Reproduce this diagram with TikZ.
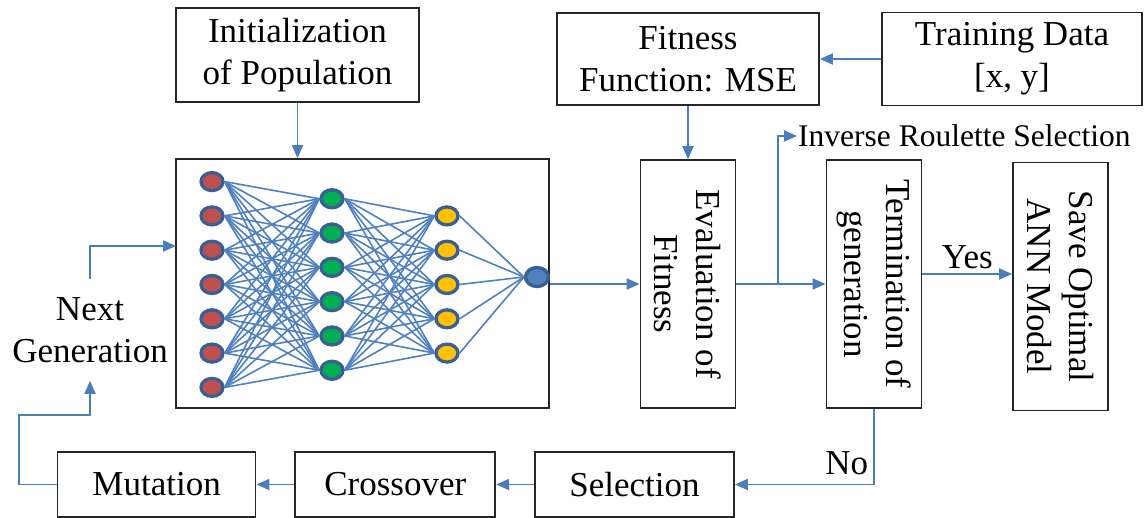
\documentclass[tikz,border=0pt]{standalone}
\usepackage{fontspec}
\setmainfont{Liberation Serif}
\usepackage{xcolor}
\usepackage{tikz}
\usetikzlibrary{arrows.meta,shapes,positioning}
\definecolor{flowblue}{HTML}{4A7EBB}
\definecolor{edgeblue}{HTML}{4F80C0}
\definecolor{rimblue}{HTML}{3A5F94}
\definecolor{inred}{HTML}{C0504D}
\definecolor{hidgreen}{HTML}{00B050}
\definecolor{hidyellow}{HTML}{FFC000}
\definecolor{outblue}{HTML}{4F81BD}

\begin{document}
\begin{tikzpicture}[x=1pt,y=-1pt,node distance=38pt]
    \tikzstyle{every node}=[font=\fontsize{35}{42}\selectfont]
    \tikzstyle{box}=[draw=black!85, line width=1.7pt, align=center, inner sep=2pt]
    \tikzstyle{vbox}=[box, rotate=-90, minimum width=248pt, minimum height=95pt]
    \tikzstyle{neuron}=[ellipse, draw=rimblue, line width=3.3pt, minimum width=22pt, minimum height=18pt, inner sep=0pt]
    \tikzstyle{flow}=[draw=flowblue, line width=1.9pt, >={Triangle[length=13pt,width=11pt]}]
    \tikzstyle{link}=[draw=edgeblue, line width=1.6pt]

    \useasboundingbox (0,0) rectangle (1144,518);

    \node[box, minimum width=243pt, minimum height=94pt] (init) at (297.5,55) {Initialization\\of Population};
    \node[box, minimum width=262pt, minimum height=92pt] (fit) at (688,59) {Fitness\\Function: MSE};
    \node[box, minimum width=260pt, minimum height=93pt] (train) at (1012,59) {Training Data\\{[}x, y{]}};

    \node[box, minimum width=373pt, minimum height=249pt] (nn) at (362.5,283.5) {};

    \node[vbox] (eval) at (688,284) {Evaluation of\\Fitness};
    \node[vbox] (term) at (874,284) {Termination of\\generation};
    \node[vbox] (save) at (1060.5,286.5) {Save Optimal\\ANN Model};

    \node[box, minimum width=199pt, minimum height=65pt] (sel) at (634.5,484.5) {Selection};
    \node[box, minimum width=200pt, minimum height=65pt] (cross) [left=of sel] {Crossover};
    \node[box, minimum width=198pt, minimum height=65pt] (mut) [left=of cross] {Mutation};

    \node[align=center, inner sep=18pt] (ng) at (90,330) {Next\\Generation};
    \node[anchor=west, inner sep=1pt, font=\fontsize{31.5}{38}\selectfont] (irs) at (797,136) {Inverse Roulette Selection};

    % network inside the box
    \foreach \i in {1,...,7}
        \node[neuron, fill=inred] (in\i) at (212,{284.5+(\i-4)*34.3}) {};
    \foreach \j in {1,...,6}
        \node[neuron, fill=hidgreen] (ha\j) at (332,{284.5+(\j-3.5)*34.3}) {};
    \foreach \k in {1,...,5}
        \node[neuron, fill=hidyellow] (hb\k) at (447,{284.5+(\k-3)*34.3}) {};
    \node[neuron, fill=outblue, minimum width=23pt, minimum height=19pt] (onode) at (537,277) {};

    \foreach \i in {1,...,7}
        \foreach \j in {1,...,6}
            \draw[link] (in\i.east) -- (ha\j.west);
    \foreach \j in {1,...,6}
        \foreach \k in {1,...,5}
            \draw[link] (ha\j.east) -- (hb\k.west);
    \foreach \k in {1,...,5}
        \draw[link] (hb\k.east) -- (onode.west);

    \coordinate (split) at (778,284);
    \coordinate (nnin) at (176,246);
    \coordinate (back) at (19,415);

    \draw[flow,->] (init.south) -- (init.south |- nn.north);
    \draw[flow,->] (train) -- (fit);
    \draw[flow,->] (fit) -- (eval);
    \draw[flow,->] (onode.east |- eval) -- (eval);
    \draw[flow,->] (eval) -- (term);
    \draw[flow,->] (split) |- (irs.west);
    \draw[flow,->] ([yshift=10pt]term.north) -- node[above, inner sep=4pt] (yes) {Yes} ([yshift=10pt]term.north -| save.south);
    \draw[flow,->] (term.east) |- node[pos=0.36, left, inner sep=5pt] (no) {No} (sel.east);
    \draw[flow,->] (sel) -- (cross);
    \draw[flow,->] (cross) -- (mut);
    \draw[flow,->] (mut.west) -| (back) -| (ng.south);
    \draw[flow,->] (ng.north) |- (nnin);
\end{tikzpicture}
\end{document}
